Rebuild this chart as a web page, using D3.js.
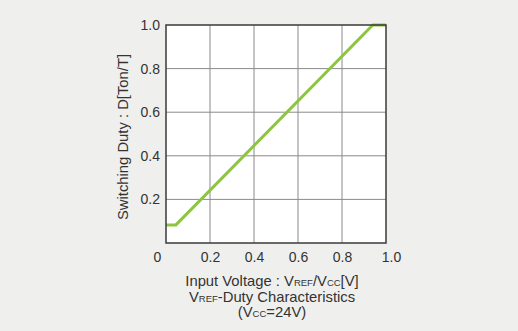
<!DOCTYPE html>
<html>
<head>
<meta charset="utf-8">
<script src="https://cdn.jsdelivr.net/npm/d3@7"></script>
<style>
  html, body { margin: 0; padding: 0; background: #eff0ee; }
  svg { display: block; font-family: "Liberation Sans", Arial, sans-serif; }
</style>
</head>
<body>
<svg id="chart" width="518" height="331"></svg>
<script>
// Input voltage ratio VREF/VCC
const inputRatio = [0, 0.045, 0.94, 1.0]
// Switching duty D = Ton/T
const duty = [0.083, 0.083, 1.0, 1.0]
const xTicks = [0, 0.2, 0.4, 0.6, 0.8, 1.0]
const yTicks = [0.2, 0.4, 0.6, 0.8, 1.0]

const svg = d3.select('#chart')
const margin = { left: 166, top: 25 }
const width = 220
const height = 218

const x = d3.scaleLinear().domain([0, 1]).range([0, width])
const y = d3.scaleLinear().domain([0, 1]).range([height, 0])

const chart = svg.append('g').attr('transform', `translate(${margin.left},${margin.top})`)

chart.append('rect')
  .attr('width', width)
  .attr('height', height)
  .attr('fill', '#fff')

// Grid lines
chart.selectAll('.vgrid')
  .data(xTicks.slice(1, -1))
  .enter()
  .append('line')
  .attr('x1', d => x(d)).attr('x2', d => x(d))
  .attr('y1', 0).attr('y2', height)
  .attr('stroke', '#8a8a8a')
  .attr('stroke-width', 1)

chart.selectAll('.hgrid')
  .data(yTicks.slice(0, -1))
  .enter()
  .append('line')
  .attr('x1', 0).attr('x2', width)
  .attr('y1', d => y(d)).attr('y2', d => y(d))
  .attr('stroke', '#8a8a8a')
  .attr('stroke-width', 1)

// Data line
const line = d3.line().x(d => x(d[0])).y(d => y(d[1]))
chart.append('path')
  .datum(d3.zip(inputRatio, duty))
  .attr('d', line)
  .attr('fill', 'none')
  .attr('stroke', '#8cc63f')
  .attr('stroke-width', 3)

// Frame
chart.append('rect')
  .attr('width', width)
  .attr('height', height)
  .attr('fill', 'none')
  .attr('stroke', '#3a3a3a')
  .attr('stroke-width', 1.5)

// Axes
const xAxis = chart.append('g')
  .attr('transform', `translate(0,${height})`)
  .call(d3.axisBottom(x).tickValues(xTicks).tickSize(0).tickPadding(9)
    .tickFormat(d => d === 0 ? '0' : d3.format('.1f')(d)))
xAxis.select('.domain').remove()
xAxis.selectAll('text').attr('font-size', 14).attr('fill', '#333')
  .attr('font-family', '"Liberation Sans", Arial, sans-serif')
xAxis.selectAll('.tick').filter(d => d === 0).select('text').attr('dx', -9)
xAxis.selectAll('.tick').filter(d => d === 1).select('text').attr('dx', 5)

const yAxis = chart.append('g')
  .call(d3.axisLeft(y).tickValues(yTicks).tickSize(0).tickPadding(6).tickFormat(d3.format('.1f')))
yAxis.select('.domain').remove()
yAxis.selectAll('text').attr('font-size', 14).attr('fill', '#333')
  .attr('font-family', '"Liberation Sans", Arial, sans-serif')

// Axis titles
svg.append('text')
  .attr('transform', 'translate(128,137) rotate(-90)')
  .attr('text-anchor', 'middle')
  .attr('font-size', 14.8)
  .attr('fill', '#333')
  .text('Switching Duty : D[Ton/T]')

const cx = 272
const title1 = svg.append('text').attr('x', cx).attr('y', 286)
  .attr('text-anchor', 'middle').attr('font-size', 14.8).attr('fill', '#333')
title1.append('tspan').text('Input Voltage : V')
title1.append('tspan').attr('font-size', 9.5).text('REF')
title1.append('tspan').text('/V')
title1.append('tspan').attr('font-size', 9.5).text('CC')
title1.append('tspan').text('[V]')

const title2 = svg.append('text').attr('x', cx).attr('y', 302)
  .attr('text-anchor', 'middle').attr('font-size', 14.8).attr('fill', '#333')
title2.append('tspan').text('V')
title2.append('tspan').attr('font-size', 9.5).text('REF')
title2.append('tspan').text('-Duty Characteristics')

const title3 = svg.append('text').attr('x', cx).attr('y', 317)
  .attr('text-anchor', 'middle').attr('font-size', 14.8).attr('fill', '#333')
title3.append('tspan').text('(V')
title3.append('tspan').attr('font-size', 9.5).text('CC')
title3.append('tspan').text('=24V)')
</script>
</body>
</html>
